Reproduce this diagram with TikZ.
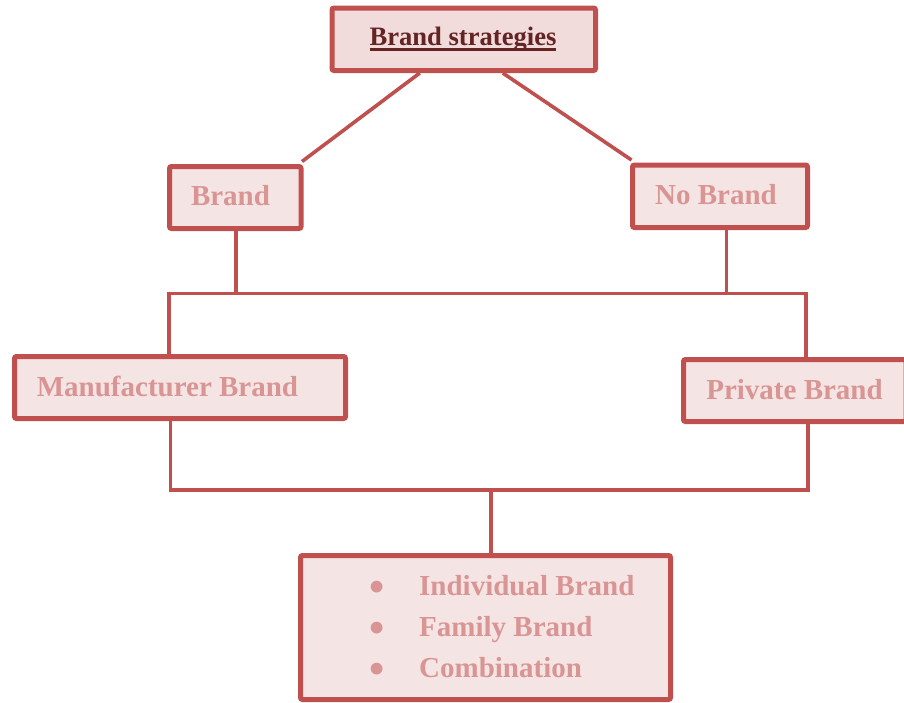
\documentclass[tikz,border=0pt]{standalone}
\usepackage{fontspec}
\setmainfont{Liberation Serif}
\definecolor{bord}{HTML}{C0504D}
\definecolor{fillA}{HTML}{F2DBDB}
\definecolor{fillB}{HTML}{F5E4E4}
\definecolor{txtA}{HTML}{632423}
\definecolor{txtB}{HTML}{D99594}
\newcommand\myul[1]{\setbox0\hbox{#1}\rlap{\rule[-5.2pt]{\wd0}{2.3pt}}\box0}
\newcommand\mybul{\llap{\makebox[84pt][c]{\raisebox{-6pt}{\scalebox{1.5}{•}}}}}
\begin{document}
\begin{tikzpicture}[x=1pt,y=-1pt,
  box/.style={draw=bord, line width=5pt, fill=fillB, rounded corners=2pt, inner sep=0pt},
  conn/.style={draw=bord, line width=3.6pt},
  lbl/.style={anchor=base, text=txtB, font=\fontsize{29}{35}\selectfont\bfseries, inner sep=0pt}]
\useasboundingbox (0,0) rectangle (904,702);

% boxes (geometry only)
\node[box, fill=fillA, minimum width=263.5pt, minimum height=62.5pt] (title) at (463.75,39.25) {};
\node[box, minimum width=131.5pt, minimum height=62pt] (brand) at (235.25,197.5) {};
\node[box, minimum width=175pt, minimum height=62.5pt] (nobrand) at (720,196.25) {};
\node[box, minimum width=331pt, minimum height=62pt] (manuf) at (180,387.5) {};
\node[box, minimum width=222.5pt, minimum height=62pt] (private) at (794.75,390.5) {};
\node[box, minimum width=370pt, minimum height=144pt] (list) at (485.5,627.5) {};

% junction points
\coordinate (hl) at (168.7,293.5);
\coordinate (hr) at (806,293.5);
\coordinate (bl) at (170.3,489.7);
\coordinate (br) at (807.7,489.7);

% connectors
\draw[conn] ([xshift=-44pt]title.south) -- ([xshift=-1.5pt,yshift=2.5pt]brand.north east);
\draw[conn] ([xshift=39pt]title.south) -- ([xshift=1.5pt,yshift=2.5pt]nobrand.north west);
\draw[conn] ([xshift=1pt]brand.south) -- ([xshift=1pt]brand.south |- hl);
\draw[conn] ([xshift=6.3pt]nobrand.south) -- ([xshift=6.3pt]nobrand.south |- hr);
\draw[conn] (manuf.north -| hl) -- (hl) -- (hr) -- (private.north -| hr);
\draw[conn] ([yshift=3pt]manuf.south -| bl) -- (bl) -- (br) -- (private.south -| br);
\draw[conn] ([xshift=5.7pt]list.north) -- ([xshift=5.7pt]list.north |- bl);

% texts
\node[anchor=base, inner sep=0pt, text=txtA, font=\fontsize{26.6}{32}\selectfont\bfseries] (titlet) at (463,45.5) {\myul{Brand strategies}};
\node[lbl] (brandt) at (230.5,205) {Brand};
\node[lbl] (nobrandt) at (716,204) {No Brand};
\node[lbl] (manuft) at (167.5,396) {Manufacturer Brand};
\node[lbl] (privatet) at (794.5,399) {Private Brand};
\node[lbl, anchor=base west] (l1) at (419,595) {\mybul Individual Brand};
\node[lbl, anchor=base west] (l2) at (419,636.5) {\mybul Family Brand};
\node[lbl, anchor=base west] (l3) at (419,677.5) {\mybul Combination};
\end{tikzpicture}
\end{document}
